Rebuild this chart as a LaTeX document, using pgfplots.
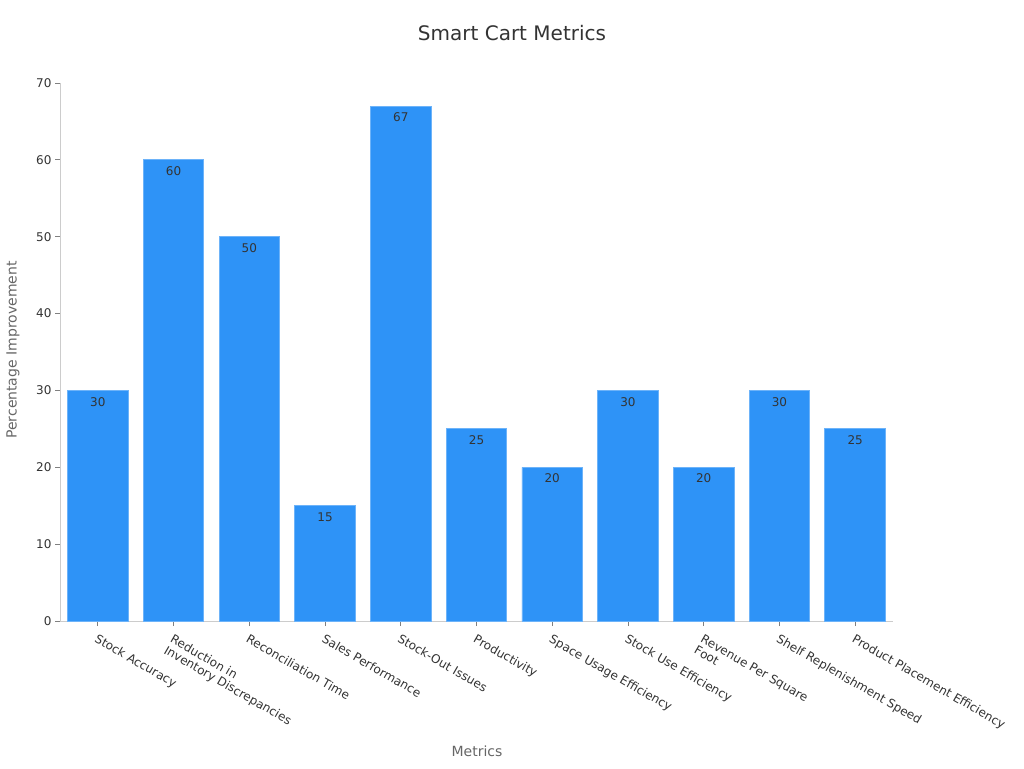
\documentclass[border=0pt]{standalone}
\usepackage{pgfplots}
\pgfplotsset{compat=1.18}
\usepackage{fontspec}
\setmainfont{DejaVu Sans}
\definecolor{barblue}{HTML}{2E93F7}
\definecolor{axgray}{HTML}{CCCCCC}
\definecolor{txt}{HTML}{333333}
\definecolor{lbl}{HTML}{666666}
\begin{document}
\begin{tikzpicture}[x=1pt,y=1pt]
\useasboundingbox (0,0) rectangle (1024,768);
\node[font=\fontsize{20}{24}\selectfont, text=txt] at (512,735) {Smart Cart Metrics};
\node[font=\fontsize{14}{17}\selectfont, text=lbl] at (477,17) {Metrics};
\node[font=\fontsize{14}{17}\selectfont, text=lbl, rotate=90] at (13,418) {Percentage Improvement};
\begin{axis}[
    at={(60pt,147pt)}, anchor=south west,
    scale only axis, width=833pt, height=538pt,
    xmin=-0.5, xmax=10.5, ymin=0, ymax=70,
    enlargelimits=false,
    ytick={0,10,...,70},
    xtick={0,...,10},
    xticklabels={Stock Accuracy,{Reduction in\\Inventory Discrepancies},Reconciliation Time,Sales Performance,Stock-Out Issues,Productivity,Space Usage Efficiency,Stock Use Efficiency,{Revenue Per Square\\Foot},Shelf Replenishment Speed,Product Placement Efficiency},
    xticklabel style={rotate=-30, anchor=north west, align=left, xshift=1pt, yshift=-3pt,
        font=\fontsize{12}{13}\selectfont, text=txt},
    yticklabel style={font=\fontsize{12}{14}\selectfont, text=txt},
    /pgf/number format/assume math mode=true,
    axis x line*=bottom, axis y line*=left,
    axis line style={axgray, line width=1pt},
    tick style={color=gray, line width=0.8pt},
    major tick length=5pt, tick align=outside,
    ybar, bar width=0.8,
    nodes near coords,
    every node near coord/.append style={anchor=north, yshift=-3pt,
        font=\fontsize{12}{14}\selectfont, text=txt},
]
\addplot[fill=barblue, draw=barblue!70!white, line width=0.8pt]
    coordinates {
    (0,30) (1,60) (2,50) (3,15) (4,67) (5,25) (6,20) (7,30) (8,20) (9,30) (10,25)
    };
\end{axis}
\end{tikzpicture}
\end{document}
